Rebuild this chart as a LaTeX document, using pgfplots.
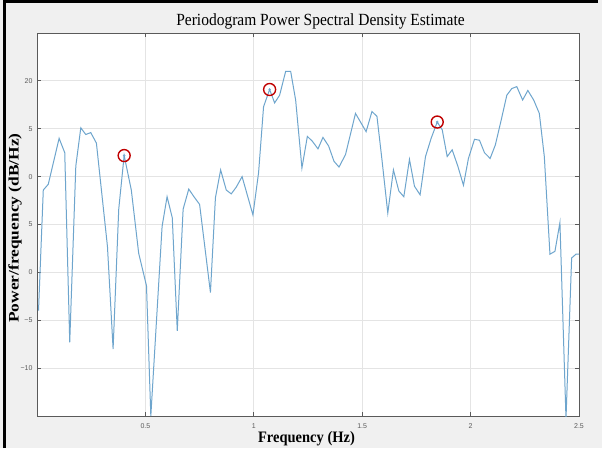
\documentclass[border=0pt]{standalone}
\usepackage{pgfplots}
\pgfplotsset{compat=1.18}
\usepackage{fontspec}
\setmainfont{Liberation Serif}
\newfontfamily\ticksans{Liberation Sans}

\definecolor{figbg}{HTML}{F0F0F0}
\definecolor{psdline}{HTML}{6EA5CD}
\definecolor{peakred}{HTML}{C00000}
\definecolor{axisgray}{HTML}{5A5A5A}
\definecolor{gridgray}{HTML}{E4E4E4}

\begin{document}
\begin{tikzpicture}[x=1pt,y=1pt]
% figure window
\fill[figbg] (0,0) rectangle (602,448);
\draw[black, line width=3pt] (4.5,0) -- (4.5,446.5) -- (598,446.5);

\begin{axis}[
  at={(37pt,32pt)}, anchor=south west,
  scale only axis, width=542pt, height=383pt,
  xmin=0, xmax=2.5, ymin=-15, ymax=25,
  xtick={0.5,1,1.5,2,2.5},
  xticklabels={0.5,1,1.5,2,2.5},
  ytick={-10,-5,0,5,10,15,20},
  yticklabels={−10,−5,0,5,0,5,20},
  tick align=inside,
  major tick length=4pt,
  grid=major,
  major grid style={draw=gridgray, line width=0.8pt},
  axis background/.style={fill=white},
  axis line style={axisgray, line width=0.8pt},
  tick style={axisgray, line width=0.8pt},
  ticklabel style={font=\ticksans\fontsize{7}{8}\selectfont, text=axisgray},
  xticklabel style={yshift=-4pt},
  yticklabel style={xshift=-1pt},
]
\addplot[psdline, line width=1pt] coordinates {
(0.007,-4.0) (0.029,8.6) (0.052,9.2) (0.102,14.0) (0.128,12.5)
(0.151,-7.3) (0.179,11.1) (0.202,15.1) (0.225,14.4) (0.248,14.6)
(0.274,13.5) (0.325,2.7) (0.351,-8.0) (0.377,6.6) (0.402,12.2)
(0.435,8.6) (0.469,2.0) (0.505,-1.4) (0.525,-15.0) (0.577,4.8)
(0.600,7.9) (0.624,5.7) (0.647,-6.1) (0.674,6.6) (0.700,8.7)
(0.724,7.9) (0.750,7.1) (0.800,-2.1) (0.823,7.8) (0.847,10.7)
(0.873,8.6) (0.896,8.2) (0.919,8.9) (0.946,10.0) (0.996,6.0)
(1.022,10.4) (1.045,17.3) (1.073,19.1) (1.096,17.7) (1.119,18.5)
(1.147,21.0) (1.170,21.0) (1.193,18.0) (1.222,10.9) (1.247,14.2)
(1.270,13.7) (1.296,12.9) (1.319,14.1) (1.345,13.2) (1.370,11.6)
(1.393,11.0) (1.423,12.3) (1.469,16.6) (1.518,14.7) (1.545,16.8)
(1.568,16.3) (1.591,11.8) (1.618,6.2) (1.644,10.7) (1.669,8.5)
(1.692,7.9) (1.718,11.8) (1.741,9.0) (1.767,8.1) (1.792,12.1)
(1.818,14.0) (1.846,15.7) (1.869,14.9) (1.892,12.1) (1.915,12.8)
(1.941,11.1) (1.967,9.1) (1.990,11.9) (2.018,13.9) (2.041,13.8)
(2.064,12.5) (2.090,11.9) (2.114,13.3) (2.141,15.9) (2.167,18.5)
(2.190,19.2) (2.213,19.4) (2.240,18.0) (2.264,19.0) (2.291,18.0)
(2.317,16.6) (2.340,12.1) (2.366,1.9) (2.389,2.2) (2.412,5.2)
(2.440,-15.3) (2.466,1.5) (2.486,1.9) (2.500,1.9)
};
% highlighted peaks
\addplot[only marks, mark=o, mark size=6pt, draw=peakred,
  mark options={line width=1.4pt}] coordinates {
(0.402,12.2) (1.073,19.1) (1.846,15.7)
};
\addplot[only marks, mark=o, mark size=1pt, draw=psdline,
  mark options={line width=0.5pt}] coordinates {
(0.402,12.2) (1.073,19.1) (1.846,15.7)
};
\end{axis}

% title and axis labels
\node[font=\fontsize{15.5}{18}\selectfont, yscale=1.1] at (320.5,427) {Periodogram Power Spectral Density Estimate};
\node[font=\bfseries\fontsize{14.5}{17}\selectfont, yscale=1.1] at (306.5,9) {Frequency (Hz)};
\node[font=\bfseries\fontsize{14.5}{17}\selectfont, rotate=90, xscale=1.2] at (15,220) {Power/frequency (dB/Hz)};

\pgfresetboundingbox
\useasboundingbox (0,0) rectangle (602,448);
\end{tikzpicture}
\end{document}
